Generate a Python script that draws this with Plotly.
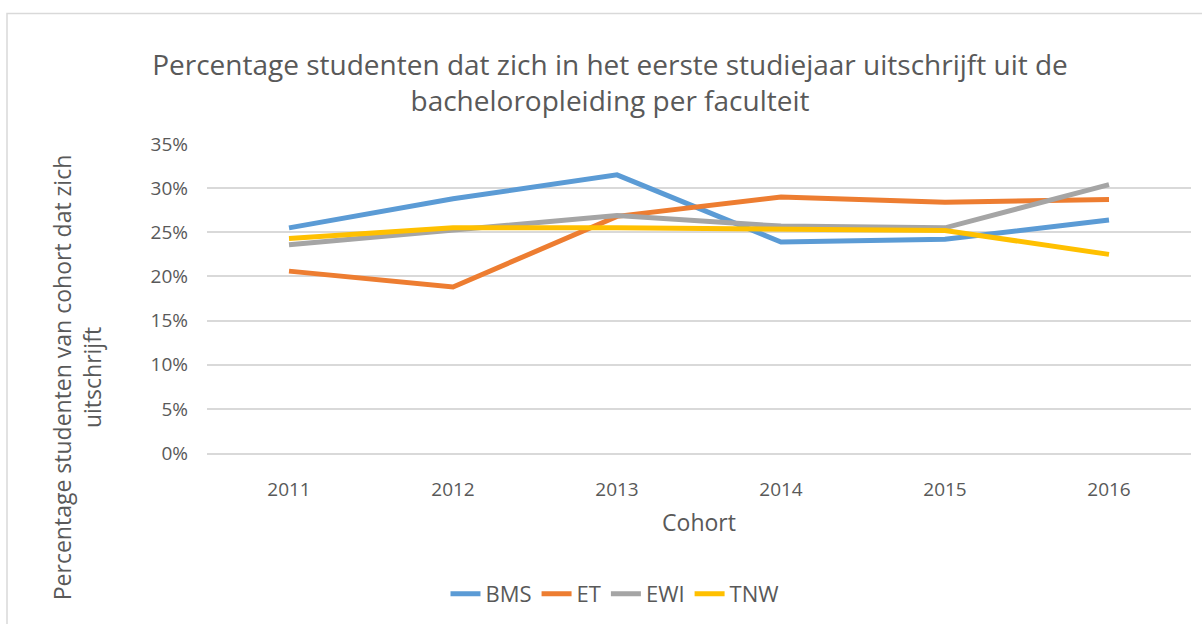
import plotly.graph_objects as go

cohorts = ["2011", "2012", "2013", "2014", "2015", "2016"]
bms = [0.255, 0.288, 0.315, 0.239, 0.242, 0.264]
et = [0.206, 0.188, 0.268, 0.290, 0.284, 0.287]
ewi = [0.236, 0.253, 0.269, 0.257, 0.255, 0.304]
tnw = [0.243, 0.255, 0.255, 0.253, 0.252, 0.225]
series_names = ["BMS", "ET", "EWI", "TNW"]
colors = ["#5B9BD5", "#ED7D31", "#A5A5A5", "#FFC000"]

W, H = 1202, 624
L, R, T, B = 207, 1191, 144, 454
FONT = "Open Sans"
TXT = "#595959"

def px_x(p):
    return (p - L) / (R - L)

def px_y(p):
    return (B - p) / (B - T)

fig = go.Figure()
for name, vals, c in zip(series_names, [bms, et, ewi, tnw], colors):
    fig.add_trace(go.Scatter(x=cohorts, y=vals, mode="lines", name=name,
                             line=dict(color=c, width=5, shape="linear")))

fig.update_layout(
    width=W, height=H,
    margin=dict(l=L, r=W - R, t=T, b=H - B),
    paper_bgcolor="white", plot_bgcolor="white",
    font=dict(family=FONT, color=TXT, size=19),
    title=dict(text="Percentage studenten dat zich in het eerste studiejaar uitschrijft uit de<br>bacheloropleiding per faculteit",
               x=610 / W, xanchor="center", y=1 - 75 / H, yanchor="middle",
               font=dict(family=FONT, size=28, color=TXT)),
    showlegend=True,
    legend=dict(orientation="h", x=px_x(615), xanchor="center", y=px_y(594), yanchor="middle",
                font=dict(size=22, color=TXT), itemwidth=30, tracegroupgap=0),
    xaxis=dict(type="category", range=[-0.5, 5.5], showgrid=False,
               showline=True, linecolor="#D9D9D9", linewidth=1.5,
               ticks="", ticklabelstandoff=18, tickfont=dict(size=19, color=TXT),
               title=dict(text="Cohort", font=dict(size=23, color=TXT), standoff=14),
               zeroline=False, fixedrange=True),
    yaxis=dict(range=[0, 0.35], dtick=0.05, tickformat=".0%",
               showgrid=True, gridcolor="#D9D9D9", gridwidth=1.5,
               zeroline=False, ticks="", ticklabelstandoff=18,
               tickfont=dict(size=19, color=TXT), fixedrange=True),
)

fig.add_annotation(text="Percentage studenten van cohort dat zich<br>uitschrijft",
                   xref="paper", yref="paper", x=px_x(77), y=px_y(378),
                   xanchor="center", yanchor="middle", textangle=-90,
                   showarrow=False, font=dict(size=23, color=TXT))

fig.add_shape(type="rect", xref="paper", yref="paper",
              x0=px_x(7), x1=px_x(1210), y0=px_y(13), y1=px_y(640),
              line=dict(color="#D9D9D9", width=1.5), fillcolor="rgba(0,0,0,0)", layer="below")

fig.write_html("out.html", config={"displayModeBar": False},
               post_script="document.body.style.margin='0px';")
